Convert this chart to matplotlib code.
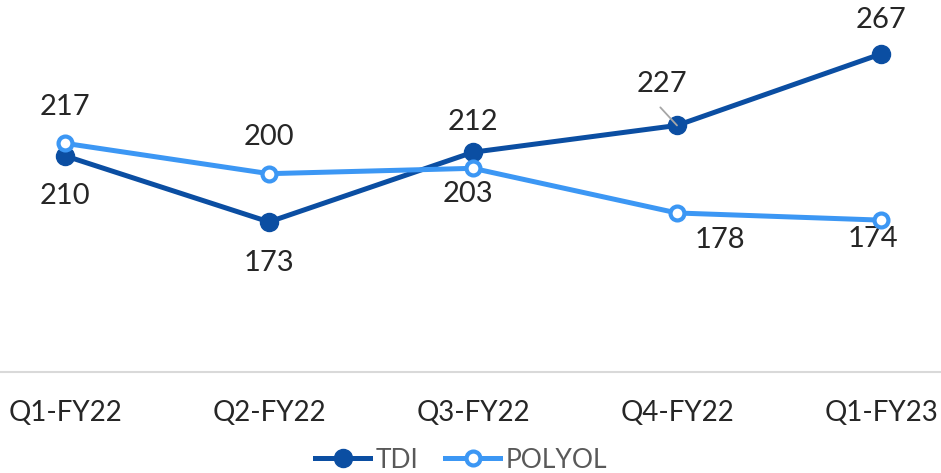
import matplotlib
matplotlib.use("Agg")
import matplotlib.pyplot as plt

plt.rcParams['font.family'] = ['Lato', 'DejaVu Sans']

quarters = ['Q1-FY22', 'Q2-FY22', 'Q3-FY22', 'Q4-FY22', 'Q1-FY23']
tdi = [210, 173, 212, 227, 267]
polyol = [217, 200, 203, 178, 174]

TDI_COLOR = '#0B4EA2'
POLY_COLOR = '#3C97F4'

fig = plt.figure(figsize=(9.41, 4.73), dpi=100)
ax = fig.add_axes([0, 1 - 372 / 473, 1, 372 / 473])

x = list(range(len(quarters)))
ax.plot(x, tdi, color=TDI_COLOR, lw=3.6, marker='o', ms=13,
        mfc=TDI_COLOR, mec=TDI_COLOR, label='TDI', zorder=3)
ax.plot(x, polyol, color=POLY_COLOR, lw=3.6, marker='o', ms=10,
        mfc='white', mec=POLY_COLOR, mew=3, label='POLYOL', zorder=4)

# data labels (offsets in points)
tdi_off = [(0, -29), (0, -29.5), (0, 21.5), (-11, 29.5), (0, 24.5)]
poly_off = [(0, 26), (0, 26.5), (-3.5, -18.7), (31, -19.4), (-6, -13.7)]
for i, v in enumerate(tdi):
    ax.annotate(str(v), (i, v), xytext=tdi_off[i], textcoords='offset points',
                ha='center', va='center', fontsize=21, color='#262626')
for i, v in enumerate(polyol):
    ax.annotate(str(v), (i, v), xytext=poly_off[i], textcoords='offset points',
                ha='center', va='center', fontsize=21, color='#262626')
# leader line for 227
ax.annotate('', (3, tdi[3]), xytext=(-12, 13), textcoords='offset points',
            arrowprops=dict(arrowstyle='-', color='#A6A6A6', lw=1.3,
                            shrinkA=0, shrinkB=0), zorder=5)

ax.set_xlim(-65 / 204, 876 / 204)
ax.set_ylim(89, 297.2)
ax.set_xticks(x)
ax.set_xticklabels(quarters, fontsize=20, color='#262626')
ax.set_yticks([])
ax.tick_params(axis='x', length=0, pad=20)
for s in ['left', 'right', 'top']:
    ax.spines[s].set_visible(False)
ax.spines['bottom'].set_color('#D9D9D9')
ax.spines['bottom'].set_linewidth(1.5)

leg = fig.legend(loc='center', bbox_to_anchor=(0.49, 1 - 460 / 473), ncol=2,
                 frameon=False, fontsize=19, handlelength=2.1,
                 columnspacing=1.0, handletextpad=0.2)
for t in leg.get_texts():
    t.set_color('#595959')

fig.savefig('out.png', dpi=100)
